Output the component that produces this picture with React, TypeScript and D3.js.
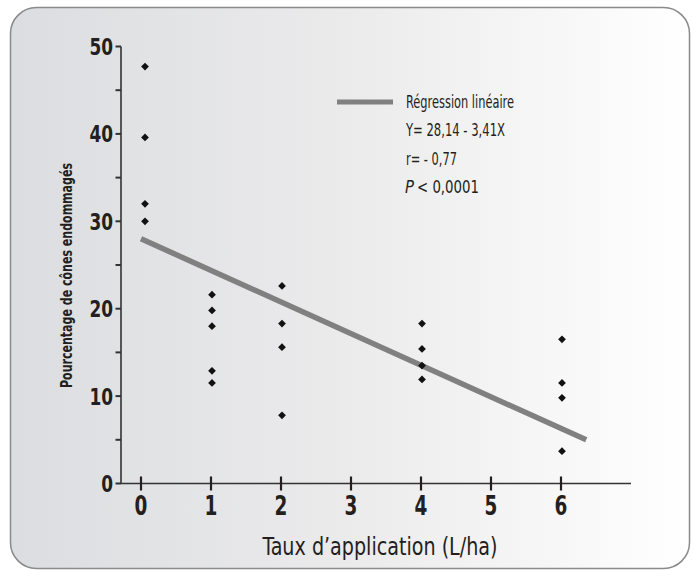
import React from "react";
import * as d3 from "d3";

const xTicks = [0, 1, 2, 3, 4, 5, 6];
const yMajor = [0, 10, 20, 30, 40, 50];
const yMinor = [5, 15, 25, 35, 45];

const pointX = [0, 0, 0, 0, 1, 1, 1, 1, 1, 2, 2, 2, 2, 4, 4, 4, 4, 6, 6, 6, 6];
const pointY = [47.7, 39.6, 32.0, 30.0, 21.6, 19.8, 18.0, 12.9, 11.5, 22.6, 18.3, 15.6, 7.8, 18.3, 15.4, 13.5, 11.9, 16.5, 11.5, 9.8, 3.7];

const lineX = [0, 6.36];
const lineY = [28.0, 5.0];

const legendLines = ["Régression linéaire", "Y= 28,14 - 3,41X", "r= - 0,77"];
const legendWidths = [108, 99, 51];

const FONT = "'DejaVu Sans Condensed', 'Liberation Sans Narrow', sans-serif";

export default function App() {
  const W = 694, H = 571;
  const x = d3.scaleLinear().domain([0, 6]).range([141, 561]);
  const y = d3.scaleLinear().domain([0, 50]).range([483.5, 46.5]);
  const line = d3.line<number>().x((_, i) => x(lineX[i])).y((d) => y(d));
  const diamond = d3.symbol().type(d3.symbolSquare).size(30)()!;

  return (
    <svg width={W} height={H} style={{ position: "absolute", left: 0, top: 0 }} fontFamily={FONT}>
      <defs>
        <linearGradient id="bg" x1="0" x2="1" y1="0" y2="0">
          <stop offset="0" stopColor="#dcdde0" />
          <stop offset="0.5" stopColor="#ebebec" />
          <stop offset="1" stopColor="#ffffff" />
        </linearGradient>
      </defs>
      <rect x={10.5} y={7.5} width={679} height={561} rx={26} ry={26} fill="url(#bg)" stroke="#8a8a8a" strokeWidth={1.5} />

      {/* regression line */}
      <path d={line(lineY) || ""} fill="none" stroke="#808080" strokeWidth={5.5} />

      {/* axes */}
      <line x1={121} x2={121} y1={y(50)} y2={y(0)} stroke="#333" strokeWidth={1.6} />
      <line x1={121} x2={631} y1={y(0)} y2={y(0)} stroke="#333" strokeWidth={1.6} />
      {yMajor.map((v) => (
        <g key={"ym" + v}>
          <line x1={115.5} x2={121} y1={y(v)} y2={y(v)} stroke="#333" strokeWidth={2} />
          <g transform={`translate(113,${y(v)}) scale(0.8,1)`}>
            <text x={0} y={0} dy="0.36em" textAnchor="end" fontSize={23.5} fontWeight="bold" fill="#231f20">
              {v}
            </text>
          </g>
        </g>
      ))}
      {yMinor.map((v) => (
        <line key={"yn" + v} x1={115.5} x2={121} y1={y(v)} y2={y(v)} stroke="#333" strokeWidth={2} />
      ))}
      {xTicks.map((v) => (
        <g key={"x" + v}>
          <line x1={x(v)} x2={x(v)} y1={y(0) - 7} y2={y(0) + 7} stroke="#231f20" strokeWidth={2.2} />
          <g transform={`translate(${x(v)},515) scale(0.76,1)`}>
            <text x={0} y={0} textAnchor="middle" fontSize={27} fontWeight="bold" fill="#231f20">
              {v}
            </text>
          </g>
        </g>
      ))}

      {/* points */}
      {pointY.map((v, i) => (
        <path key={"p" + i} d={diamond} transform={`translate(${x(pointX[i]) + (pointX[i] === 0 ? 4 : 1)},${y(v)}) rotate(45)`} fill="#111" />
      ))}

      {/* axis titles */}
      <text x={380} y={555} textAnchor="middle" fontSize={25} fill="#231f20" textLength={235} lengthAdjust="spacingAndGlyphs">
        Taux d’application (L/ha)
      </text>
      <text transform="translate(71.5,275.5) rotate(-90)" textAnchor="middle" fontSize={15} fontWeight="bold" fill="#231f20" textLength={225} lengthAdjust="spacingAndGlyphs">
        Pourcentage de cônes endommagés
      </text>

      {/* legend */}
      <line x1={337} x2={393} y1={102} y2={102} stroke="#808080" strokeWidth={5} />
      {legendLines.map((t, i) => (
        <text key={"l" + i} x={406} y={107.5 + i * 28.5} fontSize={17} fill="#231f20" textLength={legendWidths[i]} lengthAdjust="spacingAndGlyphs">
          {t}
        </text>
      ))}
      <text x={405} y={193} fontSize={17} fontStyle="italic" fill="#231f20" textLength={9} lengthAdjust="spacingAndGlyphs">
        P
      </text>
      <text x={417} y={193} fontSize={17} fill="#231f20" textLength={62} lengthAdjust="spacingAndGlyphs">
        {"< 0,0001"}
      </text>
    </svg>
  );
}
